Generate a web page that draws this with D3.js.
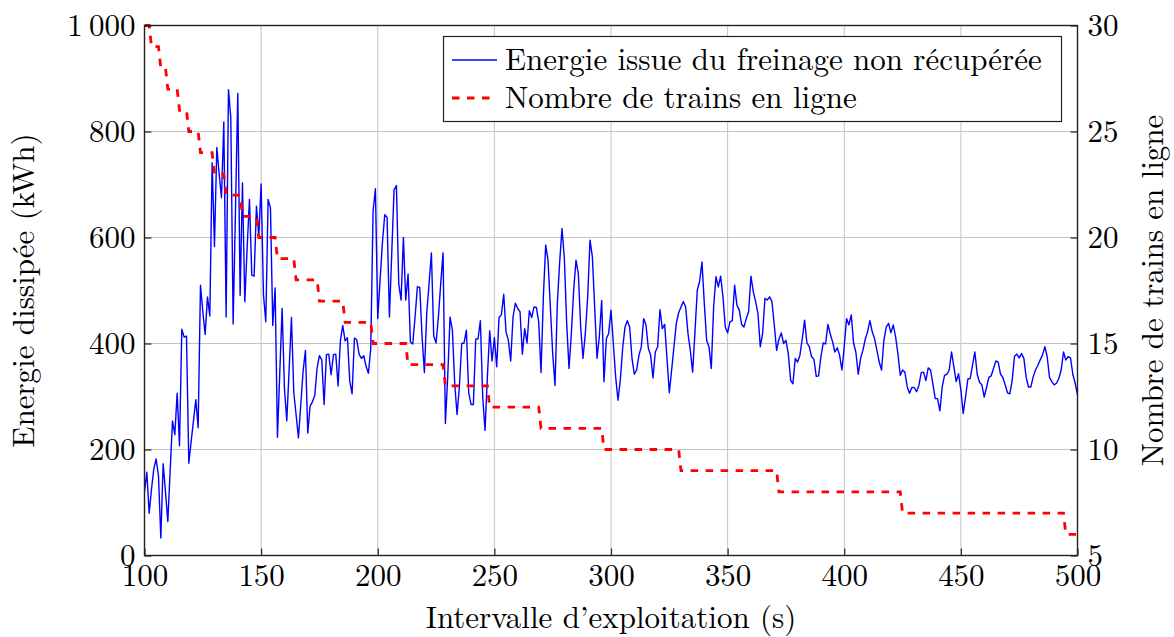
<!DOCTYPE html>
<html>
<head>
<meta charset="utf-8">
<script src="https://cdn.jsdelivr.net/npm/d3@7"></script>
<style>
  body { margin: 0; background: #fff; }
  svg text { font-family: "Latin Modern Roman", "Liberation Serif", serif; fill: #000; }
</style>
</head>
<body>
<svg></svg>
<script>
// energy (kWh) for intervals 100..500 s, one value per second
var energy = [
  120,157,80,125,164,182,150,33,173,120,
  64,160,254,228,306,207,427,412,414,174,
  215,254,294,241,510,460,417,488,452,741,
  583,770,720,675,818,450,879,826,437,650,
  872,491,703,479,580,672,529,527,659,603,
  701,492,441,672,656,434,505,223,345,466,
  315,254,350,449,308,265,222,285,348,387,
  231,282,290,302,354,377,369,285,379,380,
  341,379,380,320,406,434,405,411,329,305,
  410,407,380,372,377,357,344,390,650,692,
  447,520,590,643,638,450,570,690,698,513,
  482,600,482,531,403,399,450,507,506,413,
  345,457,513,571,414,401,450,513,571,249,
  337,450,425,324,266,318,400,401,425,307,
  285,285,408,409,443,299,236,337,424,367,
  411,356,449,454,493,422,406,367,450,476,
  466,460,380,428,401,462,449,469,468,441,
  345,488,586,557,469,381,321,476,554,617,
  561,438,353,419,501,557,532,431,372,419,
  488,595,564,469,372,413,481,328,409,419,
  463,400,337,293,331,391,431,443,431,372,
  342,350,378,394,447,435,391,378,335,384,
  394,464,428,436,372,307,350,394,438,458,
  469,479,469,419,387,346,422,501,517,554,
  476,406,394,353,469,526,507,527,488,431,
  420,441,443,510,472,463,436,431,447,460,
  527,498,479,457,394,419,485,482,488,479,
  435,387,408,420,400,406,381,331,324,372,
  365,378,409,444,401,394,375,370,338,339,
  375,401,399,436,418,403,384,392,378,350,
  394,447,435,454,401,383,342,372,387,408,
  422,443,422,409,387,365,350,406,431,438,
  420,435,413,381,340,350,346,318,306,317,
  317,309,321,345,346,330,354,350,324,296,
  296,273,318,340,342,350,384,356,328,343,
  312,268,299,333,334,359,384,342,327,322,
  299,317,336,339,353,367,365,342,336,322,
  307,305,331,376,380,373,381,372,336,318,
  318,337,350,359,369,378,394,375,336,328,
  322,325,334,350,384,369,375,373,342,325,
  303
];
var energyStart = 100;

// trains in line: vertices of the stepped curve
var trainX = [100,102,103,106,107,109,110,114,115,118,119,123,124,129,130,134,135,141,142,148,
              149,156,157,164,165,174,175,185,186,197,198,212,213,228,229,247,248,269,270,296,
              297,329,330,371,372,424,425,494,495,500];
var trainN = [30,30,29,29,28,28,27,27,26,26,25,25,24,24,23,23,22,22,21,21,
              20,20,19,19,18,18,17,17,16,16,15,15,14,14,13,13,12,12,11,11,
              10,10,9,9,8,8,7,7,6,6];

var xTicks = [100,150,200,250,300,350,400,450,500];
var yTicks = [0,200,400,600,800,1000];
var y2Ticks = [5,10,15,20,25,30];

var legendLabels = ['Energie issue du freinage non récupérée', 'Nombre de trains en ligne'];

var W = 1174, H = 637;
var margin = {left: 144.5, right: W - 1077.5, top: 25.5, bottom: H - 555.5};
var width = W - margin.left - margin.right,
    height = H - margin.top - margin.bottom;

var svg = d3.select('svg').attr('width', W).attr('height', H);
var g = svg.append('g').attr('transform', 'translate(' + margin.left + ',' + margin.top + ')');

var x = d3.scaleLinear().domain([100, 500]).range([0, width]);
var y = d3.scaleLinear().domain([0, 1000]).range([height, 0]);
var y2 = d3.scaleLinear().domain([5, 30]).range([height, 0]);

var fs = 31;

// grid
g.append('g').attr('class', 'grid')
    .selectAll('line.v').data(xTicks).enter().append('line')
    .attr('x1', d => x(d)).attr('x2', d => x(d))
    .attr('y1', 0).attr('y2', height)
    .attr('stroke', '#c4c4c4').attr('stroke-width', 1);
g.append('g').attr('class', 'grid')
    .selectAll('line.h').data(yTicks).enter().append('line')
    .attr('y1', d => y(d)).attr('y2', d => y(d))
    .attr('x1', 0).attr('x2', width)
    .attr('stroke', '#c4c4c4').attr('stroke-width', 1);

// series
var energyLine = d3.line()
    .x((d, i) => x(energyStart + i))
    .y(d => y(d));
g.append('path')
    .datum(energy)
    .attr('fill', 'none')
    .attr('stroke', '#0000ff')
    .attr('stroke-width', 1.4)
    .attr('stroke-linejoin', 'round')
    .attr('d', energyLine);

var trainLine = d3.line()
    .x(d => x(d))
    .y((d, i) => y2(trainN[i]));
g.append('path')
    .datum(trainX)
    .attr('fill', 'none')
    .attr('stroke', '#ff0000')
    .attr('stroke-width', 2.8)
    .attr('stroke-dasharray', '7.5,7.5')
    .attr('d', trainLine);

// axes (ticks inside, labels outside)
function styleAxis(sel) {
    sel.select('.domain').remove();
    sel.selectAll('.tick line').attr('stroke', '#222').attr('stroke-width', 1.2);
    sel.selectAll('.tick text').style('font-size', fs + 'px').attr('fill', '#000');
}

var xAxis = g.append('g')
    .attr('transform', 'translate(0,' + height + ')')
    .call(d3.axisBottom(x).tickValues(xTicks).tickSizeInner(-7).tickSizeOuter(0).tickPadding(8))
    .call(styleAxis);
xAxis.selectAll('.tick text').attr('dy', '0.71em');

var fmt = d => d >= 1000 ? d3.format(',')(d).replace(',', '\u2009') : d;
g.append('g')
    .call(d3.axisLeft(y).tickValues(yTicks).tickFormat(fmt).tickSizeInner(-7).tickSizeOuter(0).tickPadding(9))
    .call(styleAxis);

g.append('g')
    .attr('transform', 'translate(' + width + ',0)')
    .call(d3.axisRight(y2).tickValues(y2Ticks).tickSizeInner(-7).tickSizeOuter(0).tickPadding(10))
    .call(styleAxis);

// frame
g.append('rect')
    .attr('x', 0).attr('y', 0).attr('width', width).attr('height', height)
    .attr('fill', 'none').attr('stroke', '#222').attr('stroke-width', 1.4);

// axis titles
svg.append('text')
    .attr('transform', 'translate(34,' + (margin.top + height / 2) + ') rotate(-90)')
    .attr('text-anchor', 'middle')
    .style('font-size', fs + 'px')
    .text('Energie dissipée (kWh)');
svg.append('text')
    .attr('transform', 'translate(1163,' + (margin.top + height / 2) + ') rotate(-90)')
    .attr('text-anchor', 'middle')
    .style('font-size', fs + 'px')
    .text('Nombre de trains en ligne');
svg.append('text')
    .attr('x', margin.left + width / 2).attr('y', 628)
    .attr('text-anchor', 'middle')
    .style('font-size', fs + 'px')
    .text('Intervalle d\u2019exploitation (s)');

// legend
var legend = svg.append('g');
legend.append('rect')
    .attr('x', 443.5).attr('y', 36.5).attr('width', 618).attr('height', 85)
    .attr('fill', '#fff').attr('stroke', '#222').attr('stroke-width', 1.2);
var entries = legend.selectAll('g.entry').data(legendLabels).enter().append('g')
    .attr('transform', (d, i) => 'translate(0,' + (i === 0 ? 60 : 98) + ')');
entries.append('line')
    .attr('x1', 452).attr('x2', 497).attr('y1', 0).attr('y2', 0)
    .attr('stroke', (d, i) => i === 0 ? '#0000ff' : '#ff0000')
    .attr('stroke-width', (d, i) => i === 0 ? 1.4 : 2.8)
    .attr('stroke-dasharray', (d, i) => i === 0 ? null : '7.5,7.5');
entries.append('text')
    .attr('x', 505).attr('y', 10)
    .style('font-size', fs + 'px')
    .text(d => d);
</script>
</body>
</html>
